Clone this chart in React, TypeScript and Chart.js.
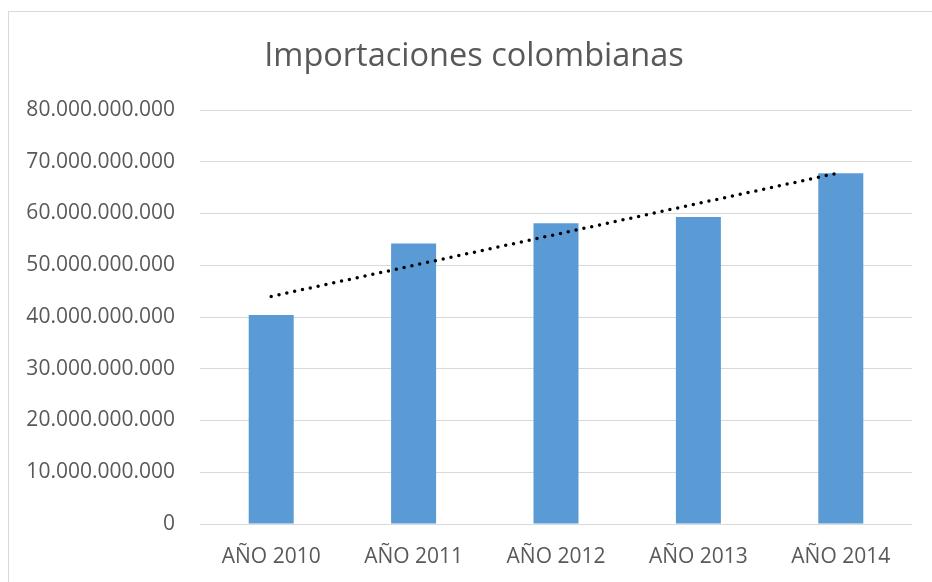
import React, { useEffect, useRef } from "react";
import { Chart, registerables } from "chart.js";

Chart.register(...registerables);

const categories: string[] = ["AÑO 2010", "AÑO 2011", "AÑO 2012", "AÑO 2013", "AÑO 2014"];
const imports: number[] = [40400000000, 54200000000, 58100000000, 59300000000, 67800000000];
const chartTitle = "Importaciones colombianas";
const yMin = 0;
const yMax = 80000000000;
const yStep = 10000000000;

function linearTrend(values: number[]): number[] {
  const n = values.length;
  const mx = (n - 1) / 2;
  const my = values.reduce((a, b) => a + b, 0) / n;
  let num = 0;
  let den = 0;
  values.forEach((v, i) => {
    num += (i - mx) * (v - my);
    den += (i - mx) * (i - mx);
  });
  const slope = num / den;
  return values.map((_, i) => my + slope * (i - mx));
}

function formatDots(v: number): string {
  return Math.round(v).toString().replace(/\B(?=(\d{3})+(?!\d))/g, ".");
}

const FONT = "'Open Sans', 'Liberation Sans', sans-serif";
const TEXT = "#595959";
const GRID = "#d9d9d9";

const titlePlugin = {
  id: "centeredTitle",
  afterDraw(chart: any) {
    const ctx = chart.ctx;
    ctx.save();
    ctx.fillStyle = TEXT;
    ctx.font = `32.5px ${FONT}`;
    ctx.textAlign = "center";
    ctx.textBaseline = "middle";
    ctx.fillText(chartTitle, 465, 45);
    ctx.restore();
  },
};

export default function App() {
  const ref = useRef<HTMLCanvasElement | null>(null);

  useEffect(() => {
    if (!ref.current) return;
    const chart = new Chart(ref.current, {
      type: "bar",
      data: {
        labels: categories,
        datasets: [
          {
            type: "line",
            label: "Tendencia",
            data: linearTrend(imports),
            borderColor: "#000000",
            borderWidth: 3.5,
            borderDash: [0, 8],
            borderCapStyle: "round",
            pointRadius: 0,
            fill: false,
            order: 0,
          } as any,
          {
            type: "bar",
            label: "Importaciones",
            data: imports,
            backgroundColor: "#5B9BD5",
            borderWidth: 0,
            barPercentage: 0.316,
            categoryPercentage: 1,
            order: 1,
          },
        ],
      },
      plugins: [titlePlugin],
      options: {
        responsive: false,
        animation: false,
        maintainAspectRatio: false,
        layout: { padding: { left: 0, right: 20, top: 98, bottom: 14 } },
        plugins: {
          legend: { display: false },
          tooltip: { enabled: false },
          title: { display: false },
        },
        scales: {
          x: {
            afterFit: (scale: any) => {
              scale.height = 44;
            },
            grid: { display: false, drawTicks: false },
            border: { display: false },
            ticks: {
              color: TEXT,
              font: { family: FONT, size: 21 },
              padding: 20,
              maxRotation: 0,
            },
          },
          y: {
            min: yMin,
            max: yMax,
            afterFit: (scale: any) => {
              scale.width = 191;
            },
            grid: { color: GRID, lineWidth: 1, drawTicks: false },
            border: { display: false },
            ticks: {
              stepSize: yStep,
              color: TEXT,
              font: { family: FONT, size: 21 },
              padding: 25,
              callback: (v: any) => formatDots(Number(v)),
            },
          },
        },
      },
    });
    return () => chart.destroy();
  }, []);

  return (
    <div
      style={{
        position: "absolute",
        left: 8,
        top: 11,
        width: 924,
        height: 571,
        boxSizing: "border-box",
        borderLeft: "1px solid #d9d9d9",
        borderTop: "1px solid #d9d9d9",
        background: "#ffffff",
      }}
    >
      <canvas ref={ref} width={923} height={570} style={{ display: "block" }} />
    </div>
  );
}
